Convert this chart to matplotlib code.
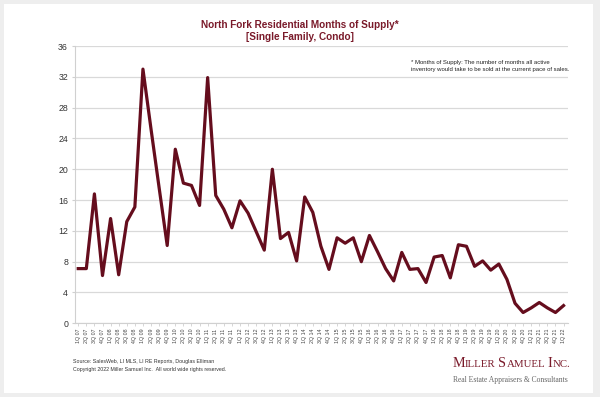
import matplotlib
matplotlib.use("Agg")
import matplotlib.pyplot as plt
from matplotlib.patches import Rectangle

quarters = [f"{q}Q {y:02d}" for y in range(7, 23) for q in range(1, 5)][:61]
supply = [7.1, 7.1, 16.8, 6.2, 13.6, 6.3, 13.2, 15.1,
          33.0, 25.2, 17.6, 10.1, 22.6, 18.2, 17.9, 15.3,
          31.9, 16.6, 14.8, 12.4, 15.9, 14.3, 11.9, 9.5,
          20.0, 11.0, 11.8, 8.1, 16.4, 14.4, 10.0, 7.0,
          11.1, 10.4, 11.1, 8.0, 11.4, 9.3, 7.1, 5.5,
          9.2, 7.0, 7.1, 5.3, 8.6, 8.8, 5.9, 10.2,
          10.0, 7.4, 8.1, 6.9, 7.7, 5.7, 2.6, 1.4,
          2.0, 2.7, 2.0, 1.4, 2.3]
yticks = [0, 4, 8, 12, 16, 20, 24, 28, 32, 36]

W, H = 600, 397
fig = plt.figure(figsize=(W / 100, H / 100), dpi=100, facecolor="#eeeeee")
fig.patches.append(Rectangle((4 / W, 4 / H), 589 / W, 389 / H, transform=fig.transFigure,
                             facecolor="white", edgecolor="none", zorder=-10))

ax = fig.add_axes([75 / W, 73.7 / H, 493 / W, 277.3 / H])
ax.set_facecolor("none")
x = list(range(len(supply)))
ax.plot(x, supply, color="#650d1d", lw=2.3, zorder=3)
ax.set_xlim(-0.4, len(supply) - 1 + 0.55)
ax.set_ylim(0, 36)
ax.set_yticks(yticks)
ax.set_yticklabels([str(v) for v in yticks], fontsize=6.3, color="#333333",
                   family="Liberation Sans")
ax.set_xticks(x)
ax.set_xticklabels(quarters, rotation=90, fontsize=3.8, color="#444444",
                   family="Liberation Sans")
ax.tick_params(axis="y", length=2.5, color="#d0d0d0", width=0.8, pad=2.5)
ax.tick_params(axis="x", length=2, color="#d0d0d0", width=0.6, pad=2)
ax.grid(axis="y", color="#d9d9d9", lw=0.9)
ax.set_axisbelow(True)
for s in ["top", "right"]:
    ax.spines[s].set_visible(False)
for s in ["left", "bottom"]:
    ax.spines[s].set_color("#d0d0d0")
    ax.spines[s].set_linewidth(0.8)

title_color = "#7a1a2a"
fig.text(300 / W, 1 - 25 / H, "North Fork Residential Months of Supply*", ha="center",
         va="center", fontsize=7.2, fontweight="bold", color=title_color,
         family="Liberation Sans")
fig.text(300 / W, 1 - 37 / H, "[Single Family, Condo]", ha="center", va="center",
         fontsize=7.2, fontweight="bold", color=title_color, family="Liberation Sans")

fig.text(411 / W, 1 - 66 / H,
         "* Months of Supply: The number of months all active\n"
         "inventory would take to be sold at the current pace of sales.",
         ha="left", va="center", fontsize=4.3, color="#222222", linespacing=1.3,
         family="Liberation Sans")

fig.text(73 / W, 1 - 361 / H, "Source: SalesWeb, LI MLS, LI RE Reports, Douglas Elliman",
         ha="left", va="center", fontsize=3.75, color="#333333", family="Liberation Sans")
fig.text(73 / W, 1 - 369.5 / H,
         "Copyright 2022 Miller Samuel Inc.  All world wide rights reserved.",
         ha="left", va="center", fontsize=3.75, color="#333333", family="Liberation Sans")

# Logo in small caps, pieces placed side by side
logo_color = "#7a1a2a"
parts = [("M", 10.2), ("ILLER", 7.8), (" ", 7.8), ("S", 10.2), ("AMUEL", 7.8), (" ", 7.8),
         ("I", 10.2), ("NC.", 7.8)]
renderer = fig.canvas.get_renderer()
xpos = 452.5
base_y = 1 - 367 / H
for txt, fs in parts:
    t = fig.text(xpos / W, base_y, txt, ha="left", va="baseline", fontsize=fs,
                 color=logo_color, family="Liberation Serif")
    bb = t.get_window_extent(renderer)
    if txt == " ":
        xpos += fs * 0.25 * 100 / 72
    else:
        xpos = bb.x1
fig.text(567.5 / W, 1 - 380 / H, "Real Estate Appraisers & Consultants", ha="right",
         va="center", fontsize=5.5, color="#666666", family="Liberation Serif")

fig.savefig("out.png", dpi=100, facecolor=fig.get_facecolor())
